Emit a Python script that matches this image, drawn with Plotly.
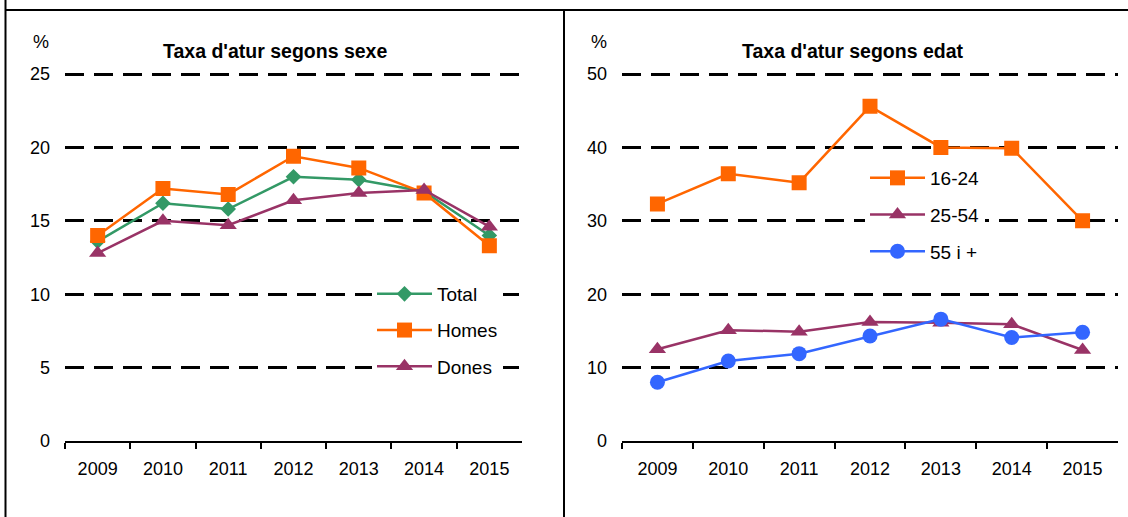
import plotly.graph_objects as go

years = ["2009", "2010", "2011", "2012", "2013", "2014", "2015"]

total = [13.6, 16.2, 15.8, 18.0, 17.8, 17.0, 14.0]
homes = [14.0, 17.2, 16.8, 19.4, 18.6, 16.9, 13.3]
dones = [12.8, 15.0, 14.7, 16.4, 16.9, 17.1, 14.6]

age_16_24 = [32.3, 36.4, 35.2, 45.6, 40.0, 39.9, 30.0]
age_25_54 = [12.5, 15.1, 14.9, 16.2, 16.1, 15.9, 12.4]
age_55 = [8.0, 10.9, 11.9, 14.3, 16.6, 14.1, 14.8]

sex_ticks = [0, 5, 10, 15, 20, 25]
age_ticks = [0, 10, 20, 30, 40, 50]

title_left = "Taxa d'atur segons sexe"
title_right = "Taxa d'atur segons edat"

GREEN = "#339966"
ORANGE = "#FF6600"
PURPLE = "#993366"
BLUE = "#3366FF"

FONT = "Liberation Sans Narrow, Arial Narrow, Liberation Sans, Arial, sans-serif"
W, H = 1128, 517


def px_x(p):
    return p / W


def px_y(p):
    return 1 - p / H


fig = go.Figure()

# left chart
fig.add_trace(go.Scatter(x=years, y=total, name="Total", mode="lines+markers",
                         line=dict(color=GREEN, width=2.5),
                         marker=dict(symbol="diamond", size=12, color=GREEN),
                         xaxis="x", yaxis="y", legend="legend", legendgroup="t"))
fig.add_trace(go.Scatter(x=years, y=homes, name="Homes", mode="lines+markers",
                         line=dict(color=ORANGE, width=2.5),
                         marker=dict(symbol="square", size=15, color=ORANGE),
                         xaxis="x", yaxis="y", legend="legend", legendgroup="h"))
fig.add_trace(go.Scatter(x=years, y=dones, name="Dones", mode="lines+markers",
                         line=dict(color=PURPLE, width=2.5),
                         marker=dict(symbol="triangle-up", size=15, color=PURPLE),
                         xaxis="x", yaxis="y", legend="legend", legendgroup="d"))

# right chart
fig.add_trace(go.Scatter(x=years, y=age_16_24, name="16-24", mode="lines+markers",
                         line=dict(color=ORANGE, width=2.5),
                         marker=dict(symbol="square", size=15, color=ORANGE),
                         xaxis="x2", yaxis="y2", legend="legend2", legendgroup="a"))
fig.add_trace(go.Scatter(x=years, y=age_25_54, name="25-54", mode="lines+markers",
                         line=dict(color=PURPLE, width=2.5),
                         marker=dict(symbol="triangle-up", size=15, color=PURPLE),
                         xaxis="x2", yaxis="y2", legend="legend2", legendgroup="b"))
fig.add_trace(go.Scatter(x=years, y=age_55, name="55 i +", mode="lines+markers",
                         line=dict(color=BLUE, width=2.5),
                         marker=dict(symbol="circle", size=15, color=BLUE),
                         xaxis="x2", yaxis="y2", legend="legend2", legendgroup="c"))

xcommon = dict(type="category", tickson="boundaries", ticks="outside", ticklen=6,
               tickwidth=2, tickcolor="black", showline=True, linecolor="black",
               linewidth=2, showgrid=False, zeroline=False, range=[-0.5, 6.5],
               tickfont=dict(family=FONT, size=18, color="black"),
               ticklabelstandoff=10, automargin=False, fixedrange=True)
ycommon = dict(showgrid=True, gridcolor="black", gridwidth=3, griddash="19px,10px",
               zeroline=True, zerolinecolor="black", zerolinewidth=2,
               showline=False, ticks="",
               tickfont=dict(family=FONT, size=18, color="black"),
               ticklabelstandoff=14, automargin=False, fixedrange=True)

# y=0 at 441 px, y=max tick at 74 px; range extended 2% so the top gridline is drawn
ydom = [px_y(441), px_y(441 - 367 * 1.02)]

fig.update_layout(
    width=W, height=H,
    margin=dict(l=0, r=0, t=0, b=0),
    paper_bgcolor="white", plot_bgcolor="white",
    font=dict(family=FONT, color="black"),
    xaxis=dict(domain=[px_x(65), px_x(522)], anchor="y", **xcommon),
    yaxis=dict(domain=ydom, anchor="x", range=[0, 25 * 1.02], tickvals=sex_ticks, **ycommon),
    xaxis2=dict(domain=[px_x(622), px_x(1118)], anchor="y2", **xcommon),
    yaxis2=dict(domain=ydom, anchor="x2", range=[0, 50 * 1.02], tickvals=age_ticks, **ycommon),
    legend=dict(x=px_x(372), y=px_y(275), xanchor="left", yanchor="top",
                bgcolor="white", borderwidth=0, itemwidth=55,
                traceorder="grouped", tracegroupgap=8.5,
                font=dict(family=FONT, size=19, color="black")),
    legend2=dict(x=px_x(865), y=px_y(159), xanchor="left", yanchor="top",
                 bgcolor="white", borderwidth=0, itemwidth=55,
                 traceorder="grouped", tracegroupgap=9,
                 font=dict(family=FONT, size=19, color="black")),
    showlegend=True,
)

# titles and unit labels
fig.add_annotation(x=px_x(275), y=px_y(51), xref="paper", yref="paper",
                   xanchor="center", yanchor="middle",
                   text="<b>" + title_left + "</b>", showarrow=False,
                   font=dict(family=FONT, size=19.5, color="black"))
fig.add_annotation(x=px_x(853), y=px_y(51), xref="paper", yref="paper",
                   xanchor="center", yanchor="middle",
                   text="<b>" + title_right + "</b>", showarrow=False,
                   font=dict(family=FONT, size=19.5, color="black"))
fig.add_annotation(x=px_x(41), y=px_y(42), xref="paper", yref="paper",
                   xanchor="center", yanchor="middle",
                   text="%", showarrow=False,
                   font=dict(family=FONT, size=18, color="black"))
fig.add_annotation(x=px_x(599), y=px_y(42), xref="paper", yref="paper",
                   xanchor="center", yanchor="middle",
                   text="%", showarrow=False,
                   font=dict(family=FONT, size=18, color="black"))

# frame lines
frame = dict(color="black", width=2)
fig.add_shape(type="line", xref="paper", yref="paper",
              x0=px_x(5), x1=1, y0=px_y(10), y1=px_y(10), line=frame)
fig.add_shape(type="line", xref="paper", yref="paper",
              x0=px_x(5.5), x1=px_x(5.5), y0=0, y1=1, line=frame)
fig.add_shape(type="line", xref="paper", yref="paper",
              x0=px_x(564), x1=px_x(564), y0=0, y1=px_y(10), line=frame)

fig.write_html("out.html", config={"displayModeBar": False},
               post_script="document.body.style.margin='0';document.body.style.overflow='hidden';")
